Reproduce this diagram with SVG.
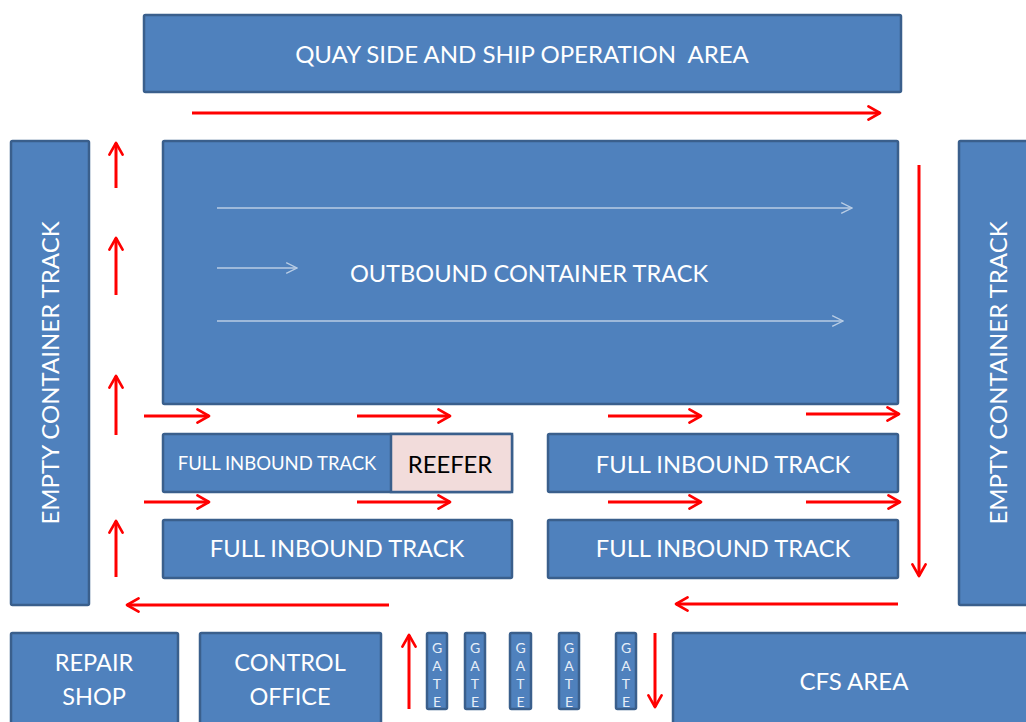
<svg xmlns="http://www.w3.org/2000/svg" width="1026" height="722" viewBox="0 0 1026 722">
<style>
.box{fill:#4F81BD;stroke:#3A5F8C;stroke-width:2.5}
.reef{fill:#F2DCDB;stroke:#3A5F8C;stroke-width:2.5}
.t{font-family:Lato,"Liberation Sans",sans-serif;fill:#FFFFFF;text-anchor:middle}
.g{font-family:Lato,"Liberation Sans",sans-serif;fill:#E6EEF8;text-anchor:middle;font-size:14px}
.r{stroke:#FF0000;stroke-width:3;fill:none;marker-end:url(#ah)}
.w{stroke:#B9CDE5;stroke-width:1.5;fill:none}
</style>
<defs>
<marker id="ah" viewBox="0 0 10 10" refX="8" refY="5" markerWidth="5.5" markerHeight="5.5" orient="auto" markerUnits="strokeWidth">
<path d="M1,1 L8,5 L1,9" fill="none" stroke="#FF0000" stroke-width="1.6" stroke-linecap="round" stroke-linejoin="round"/>
</marker>
<marker id="wh" viewBox="0 0 10 10" refX="9" refY="5" markerWidth="9" markerHeight="9" orient="auto" markerUnits="strokeWidth">
<path d="M1,1 L9,5 L1,9" fill="none" stroke="#B9CDE5" stroke-width="1"/>
</marker>
</defs>
<rect width="1026" height="722" fill="#FFFFFF"/>

<g id="quay"><rect class="box" x="144" y="15" width="757" height="77" rx="1.5"/><text class="t" x="522" y="63" font-size="24" xml:space="preserve" style="white-space:pre">QUAY SIDE AND SHIP OPERATION  AREA</text></g>

<g id="empty-left"><rect class="box" x="11" y="141" width="78" height="464" rx="1.5"/><text class="t" font-size="24" transform="translate(59,373) rotate(-90)">EMPTY CONTAINER TRACK</text></g>
<g id="empty-right"><rect class="box" x="959" y="141" width="80" height="464" rx="1.5"/><text class="t" font-size="24" transform="translate(1007,373) rotate(-90)">EMPTY CONTAINER TRACK</text></g>

<g id="outbound"><rect class="box" x="163" y="141" width="735" height="263" rx="1.5"/>
<line class="w" x1="217" y1="208" x2="852" y2="208" marker-end="url(#wh)"/>
<line class="w" x1="217" y1="268" x2="297" y2="268" marker-end="url(#wh)"/>
<line class="w" x1="217" y1="321" x2="843" y2="321" marker-end="url(#wh)"/>
<text class="t" x="529" y="282" font-size="23.6">OUTBOUND CONTAINER TRACK</text></g>

<g id="inbound-1a"><rect class="box" x="163" y="434" width="349" height="58" rx="1.5"/><rect class="reef" x="391" y="434" width="121" height="58"/>
<text class="t" x="277" y="470" font-size="18.5">FULL INBOUND TRACK</text>
<text class="t" x="450" y="473" font-size="23.8" style="fill:#000000">REEFER</text></g>
<g id="inbound-1b"><rect class="box" x="548" y="434" width="350" height="58" rx="1.5"/><text class="t" x="723" y="473" font-size="23.7">FULL INBOUND TRACK</text></g>
<g id="inbound-2a"><rect class="box" x="163" y="520" width="349" height="58" rx="1.5"/><text class="t" x="337" y="557" font-size="23.7">FULL INBOUND TRACK</text></g>
<g id="inbound-2b"><rect class="box" x="548" y="520" width="350" height="58" rx="1.5"/><text class="t" x="723" y="557" font-size="23.7">FULL INBOUND TRACK</text></g>

<g id="repair"><rect class="box" x="11" y="633" width="167" height="100" rx="1.5"/><text class="t" x="94" y="671" font-size="23.5">REPAIR</text><text class="t" x="94" y="705" font-size="23.5">SHOP</text></g>
<g id="control"><rect class="box" x="200" y="633" width="181" height="100" rx="1.5"/><text class="t" x="290" y="671" font-size="23.5">CONTROL</text><text class="t" x="290" y="705" font-size="23.5">OFFICE</text></g>
<g id="cfs"><rect class="box" x="673" y="633" width="370" height="100" rx="1.5"/><text class="t" x="854" y="690" font-size="24">CFS AREA</text></g>

<g id="gate-1"><rect class="box" x="427" y="633" width="20" height="76" rx="1.5"/><text class="g" x="437" y="653">G</text><text class="g" x="437" y="671">A</text><text class="g" x="437" y="689">T</text><text class="g" x="437" y="707">E</text></g>
<g id="gate-2"><rect class="box" x="465" y="633" width="20" height="76" rx="1.5"/><text class="g" x="475" y="653">G</text><text class="g" x="475" y="671">A</text><text class="g" x="475" y="689">T</text><text class="g" x="475" y="707">E</text></g>
<g id="gate-3"><rect class="box" x="510" y="633" width="21" height="76" rx="1.5"/><text class="g" x="520.5" y="653">G</text><text class="g" x="520.5" y="671">A</text><text class="g" x="520.5" y="689">T</text><text class="g" x="520.5" y="707">E</text></g>
<g id="gate-4"><rect class="box" x="559" y="633" width="20" height="76" rx="1.5"/><text class="g" x="569" y="653">G</text><text class="g" x="569" y="671">A</text><text class="g" x="569" y="689">T</text><text class="g" x="569" y="707">E</text></g>
<g id="gate-5"><rect class="box" x="616" y="633" width="20" height="76" rx="1.5"/><text class="g" x="626" y="653">G</text><text class="g" x="626" y="671">A</text><text class="g" x="626" y="689">T</text><text class="g" x="626" y="707">E</text></g>

<g id="connectors">
<line class="r" x1="192" y1="113" x2="880" y2="113"/>
<line class="r" x1="116" y1="188" x2="116" y2="143"/>
<line class="r" x1="116" y1="295" x2="116" y2="238"/>
<line class="r" x1="116" y1="435" x2="116" y2="376"/>
<line class="r" x1="116" y1="577" x2="116" y2="521"/>
<line class="r" x1="919" y1="165" x2="919" y2="576"/>
<line class="r" x1="144" y1="416" x2="209" y2="416"/>
<line class="r" x1="357" y1="416" x2="450" y2="416"/>
<line class="r" x1="608" y1="416" x2="701" y2="416"/>
<line class="r" x1="806" y1="414" x2="899" y2="414"/>
<line class="r" x1="144" y1="502" x2="209" y2="502"/>
<line class="r" x1="357" y1="502" x2="450" y2="502"/>
<line class="r" x1="608" y1="502" x2="701" y2="502"/>
<line class="r" x1="806" y1="502" x2="900" y2="502"/>
<line class="r" x1="389" y1="605" x2="127" y2="605"/>
<line class="r" x1="898" y1="604" x2="676" y2="604"/>
<line class="r" x1="409" y1="709" x2="409" y2="635"/>
<line class="r" x1="655" y1="633" x2="655" y2="707"/>
</g>
</svg>
